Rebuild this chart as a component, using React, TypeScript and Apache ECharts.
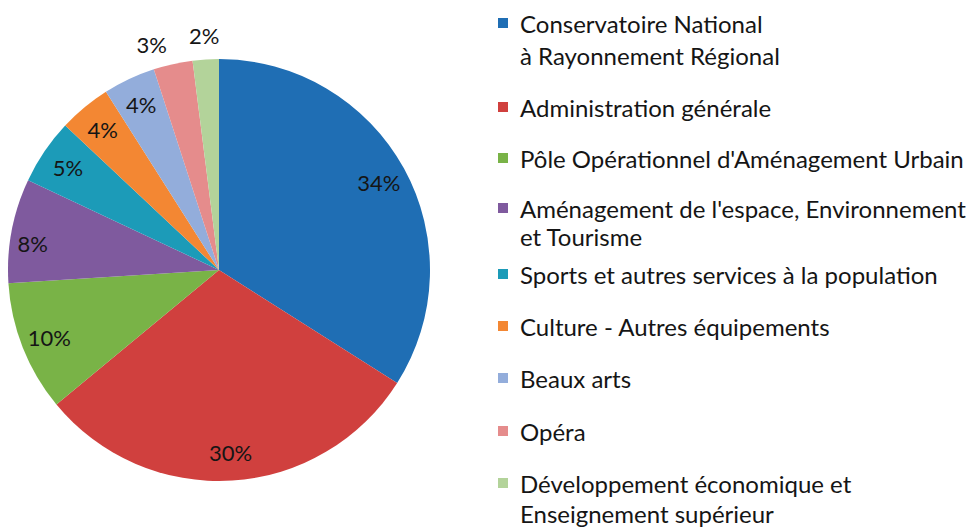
import React, { useEffect, useRef } from "react";
import * as echarts from "echarts";

const categories = [
  "Conservatoire National à Rayonnement Régional",
  "Administration générale",
  "Pôle Opérationnel d'Aménagement Urbain",
  "Aménagement de l'espace, Environnement et Tourisme",
  "Sports et autres services à la population",
  "Culture - Autres équipements",
  "Beaux arts",
  "Opéra",
  "Développement économique et Enseignement supérieur",
];
const legendLine1 = [
  "Conservatoire National",
  "Administration générale",
  "Pôle Opérationnel d'Aménagement Urbain",
  "Aménagement de l'espace, Environnement",
  "Sports et autres services à la population",
  "Culture - Autres équipements",
  "Beaux arts",
  "Opéra",
  "Développement économique et",
];
const legendLine2 = [
  "à Rayonnement Régional",
  "",
  "",
  "et Tourisme",
  "",
  "",
  "",
  "",
  "Enseignement supérieur",
];
const values = [34, 30, 10, 8, 5, 4, 4, 3, 2];
const colors = [
  "#1F6EB4",
  "#D0403E",
  "#79B347",
  "#7F5A9E",
  "#1C9BB8",
  "#F38733",
  "#93ADDB",
  "#E58C8C",
  "#B3D39A",
];
const outsideLabel = [false, false, false, false, false, false, false, true, true];

const FONT = "Lato";
const FS = 24;
const LFS = 22;
const LH = 22;
const legendTops = [22, 106, 157, 207, 273, 325, 377, 430, 482];
const line2Tops = [54, 0, 0, 235, 0, 0, 0, 0, 512];

export default function App() {
  const ref = useRef<HTMLDivElement>(null);
  useEffect(() => {
    document.body.style.margin = "0";
    const chart = echarts.init(ref.current!, null, { renderer: "svg" });
    const center = [219, 270];
    const R = 211;
    const data = categories.map((name, i) => ({
      name,
      value: values[i],
      itemStyle: { color: colors[i] },
    }));
    const legends = categories.map((name, i) => ({
      data: [name],
      orient: "vertical",
      left: 498,
      top: legendTops[i] - LH / 2,
      padding: 0,
      icon: "rect",
      itemWidth: 10,
      itemHeight: 10,
      selectedMode: false,
      formatter: () => legendLine1[i],
      textStyle: {
        fontFamily: FONT,
        fontSize: FS,
        color: "#151515",
        lineHeight: LH,
        padding: [0, 0, 0, 7],
      },
    }));
    const graphics = legendLine2
      .map((t, i) => ({ t, i }))
      .filter((o) => o.t)
      .map((o) => ({
        type: "text",
        left: 520,
        top: line2Tops[o.i] - LH / 2,
        style: {
          text: o.t,
          fontFamily: FONT,
          fontSize: FS,
          fill: "#151515",
          lineHeight: LH,
        },
      }));
    chart.setOption({
      animation: false,
      backgroundColor: "#ffffff",
      legend: legends,
      graphic: graphics,
      series: [
        {
          type: "pie",
          center,
          radius: [0, R],
          startAngle: 90,
          clockwise: true,
          silent: true,
          label: { show: false },
          labelLine: { show: false },
          data,
        },
        {
          type: "pie",
          center,
          radius: [148, R],
          startAngle: 90,
          clockwise: true,
          silent: true,
          itemStyle: { color: "rgba(0,0,0,0)" },
          labelLine: { show: false },
          label: {
            show: true,
            position: "inside",
            formatter: (p: any) => (outsideLabel[p.dataIndex] ? "" : p.value + "%"),
            fontFamily: FONT,
            fontSize: LFS,
            color: "#151515",
          },
          labelLayout: (p: any) => (p.dataIndex === 3 ? { dx: -7, dy: 8 } : {}),
          data: categories.map((name, i) => ({ name: name + " ", value: values[i] })),
        },
        {
          type: "pie",
          center,
          radius: [R, 253],
          startAngle: 90,
          clockwise: true,
          silent: true,
          itemStyle: { color: "rgba(0,0,0,0)" },
          labelLine: { show: false },
          label: {
            show: true,
            position: "inside",
            formatter: (p: any) => (outsideLabel[p.dataIndex] ? p.value + "%" : ""),
            fontFamily: FONT,
            fontSize: LFS,
            color: "#151515",
          },
          labelLayout: (p: any) => (p.dataIndex === 7 ? { dx: -16, dy: 4 } : {}),
          data: categories.map((name, i) => ({ name: name + "  ", value: values[i] })),
        },
      ],
    });
    return () => chart.dispose();
  }, []);
  return <div ref={ref} style={{ width: 976, height: 529 }} />;
}
